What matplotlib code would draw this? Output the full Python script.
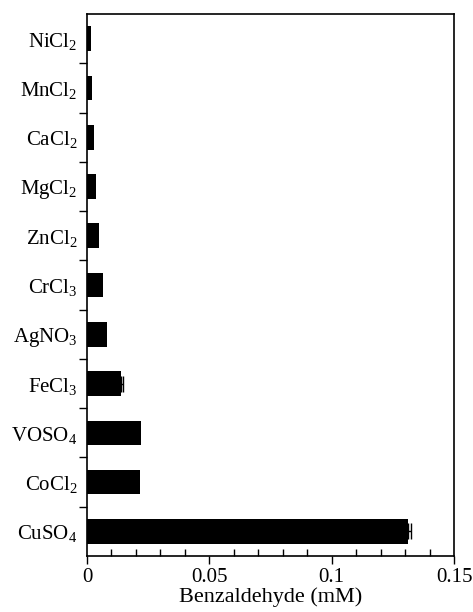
import matplotlib.pyplot as plt
import numpy as np
from matplotlib.ticker import MultipleLocator, FixedLocator

plt.rcParams['font.family'] = ['Liberation Serif', 'DejaVu Serif']
plt.rcParams['mathtext.fontset'] = 'custom'
plt.rcParams['mathtext.rm'] = 'Liberation Serif'
plt.rcParams['mathtext.it'] = 'Liberation Serif'

# Salts, bottom to top
salts = [r'CuSO$_4$', r'CoCl$_2$', r'VOSO$_4$', r'FeCl$_3$', r'AgNO$_3$',
         r'CrCl$_3$', r'ZnCl$_2$', r'MgCl$_2$', r'CaCl$_2$', r'MnCl$_2$',
         r'NiCl$_2$']
benzaldehyde = [0.131, 0.0217, 0.0220, 0.0137, 0.0082,
                0.0064, 0.0050, 0.0035, 0.0027, 0.0022, 0.0018]
errors = [0.0015, 0, 0, 0.0010, 0, 0, 0, 0, 0, 0, 0]

fig = plt.figure(figsize=(4.73, 6.12), dpi=100)
ax = fig.add_axes([87/473, 1 - 556/612, 367/473, 542/612])

y = np.arange(len(salts))
ax.barh(y, benzaldehyde, height=0.5, color='black')
err_idx = [i for i, e in enumerate(errors) if e > 0]
ax.errorbar([benzaldehyde[i] for i in err_idx], err_idx,
            xerr=[[0] * len(err_idx), [errors[i] for i in err_idx]],
            fmt='none', ecolor='black', elinewidth=1, capsize=6, capthick=1)

ax.set_xlim(0, 0.15)
ax.set_ylim(-0.5, len(salts) - 0.5)

ax.set_xticks([0, 0.05, 0.1, 0.15])
ax.set_xticklabels(['0', '0.05', '0.1', '0.15'])
ax.xaxis.set_minor_locator(MultipleLocator(0.01))
ax.set_yticks(y)
ax.set_yticklabels(salts)
ax.yaxis.set_minor_locator(FixedLocator(np.arange(0.5, len(salts) - 1, 1)))

ax.tick_params(axis='x', which='major', direction='out', length=6, width=1,
               labelsize=15, pad=3)
ax.tick_params(axis='x', which='minor', direction='in', length=5, width=1)
ax.tick_params(axis='y', which='major', length=0, labelsize=15, pad=7)
ax.tick_params(axis='y', which='minor', direction='out', length=6, width=1)

for s in ax.spines.values():
    s.set_linewidth(1.2)

ax.set_xlabel('Benzaldehyde (mM)', fontsize=16, labelpad=0)

fig.savefig('out.png', dpi=100)
